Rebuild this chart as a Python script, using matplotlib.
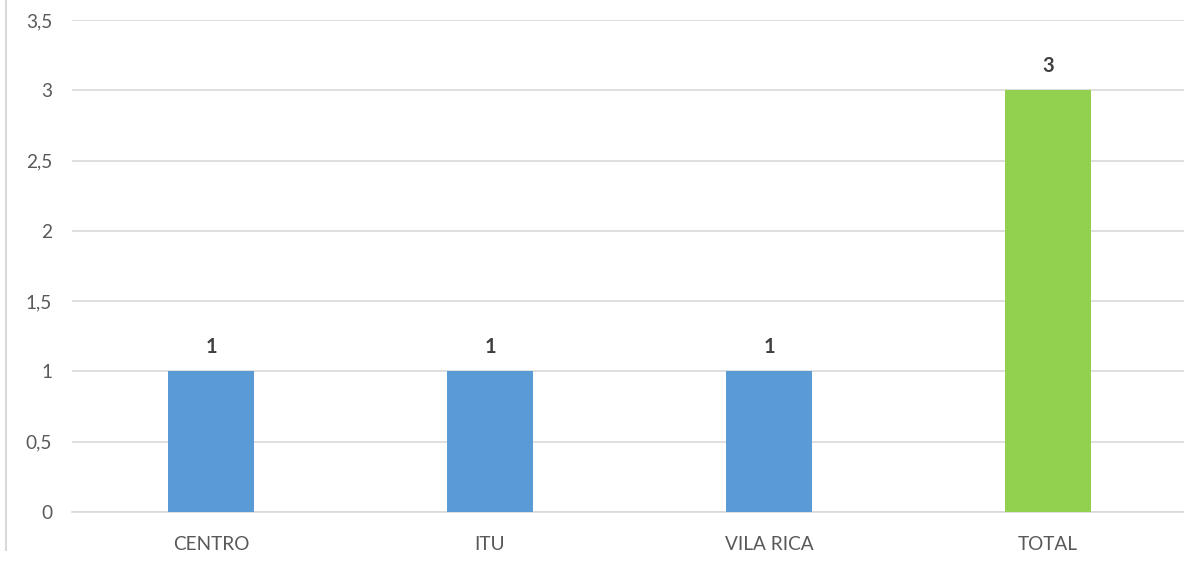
import matplotlib.pyplot as plt
from matplotlib.lines import Line2D
from matplotlib.ticker import FuncFormatter

categorias = ['CENTRO', 'ITU', 'VILA RICA', 'TOTAL']
valores = [1, 1, 1, 3]
cores = ['#5B9BD5', '#5B9BD5', '#5B9BD5', '#92D050']

plt.rcParams['font.family'] = ['Lato', 'DejaVu Sans']

fig = plt.figure(figsize=(11.84, 5.62), dpi=100)
ax = fig.add_axes([0.0604, 0.089, 0.9426, 0.8754])

x = range(len(categorias))
barras = ax.bar(x, valores, width=0.31, color=cores, zorder=3)

# rotulos em cima das barras
for xi, v in zip(x, valores):
    ax.text(xi, v + 0.1, str(v), ha='center', va='bottom',
            fontsize=14.5, fontweight='bold', color='#404040')

ax.set_xlim(-0.5, len(categorias) - 0.5)
ax.set_ylim(0, 3.5)
ax.set_yticks([0, 0.5, 1, 1.5, 2, 2.5, 3, 3.5])
ax.yaxis.set_major_formatter(FuncFormatter(lambda v, p: f'{v:g}'.replace('.', ',')))
ax.set_xticks(list(x))
ax.set_xticklabels(categorias)

ax.grid(axis='y', color='#D9D9D9', linewidth=1.2, zorder=0)
for lado in ['top', 'right', 'left']:
    ax.spines[lado].set_visible(False)
ax.spines['bottom'].set_color('#D9D9D9')
ax.spines['bottom'].set_linewidth(1.2)
ax.tick_params(axis='both', length=0, labelsize=13.7, colors='#595959')
ax.tick_params(axis='x', pad=17)
ax.tick_params(axis='y', pad=14)

# borda esquerda do quadro
fig.add_artist(Line2D([6 / 1184, 6 / 1184], [12 / 562, 1], color='#D9D9D9',
                      linewidth=1.5, transform=fig.transFigure))

plt.savefig('out.png', dpi=100)
